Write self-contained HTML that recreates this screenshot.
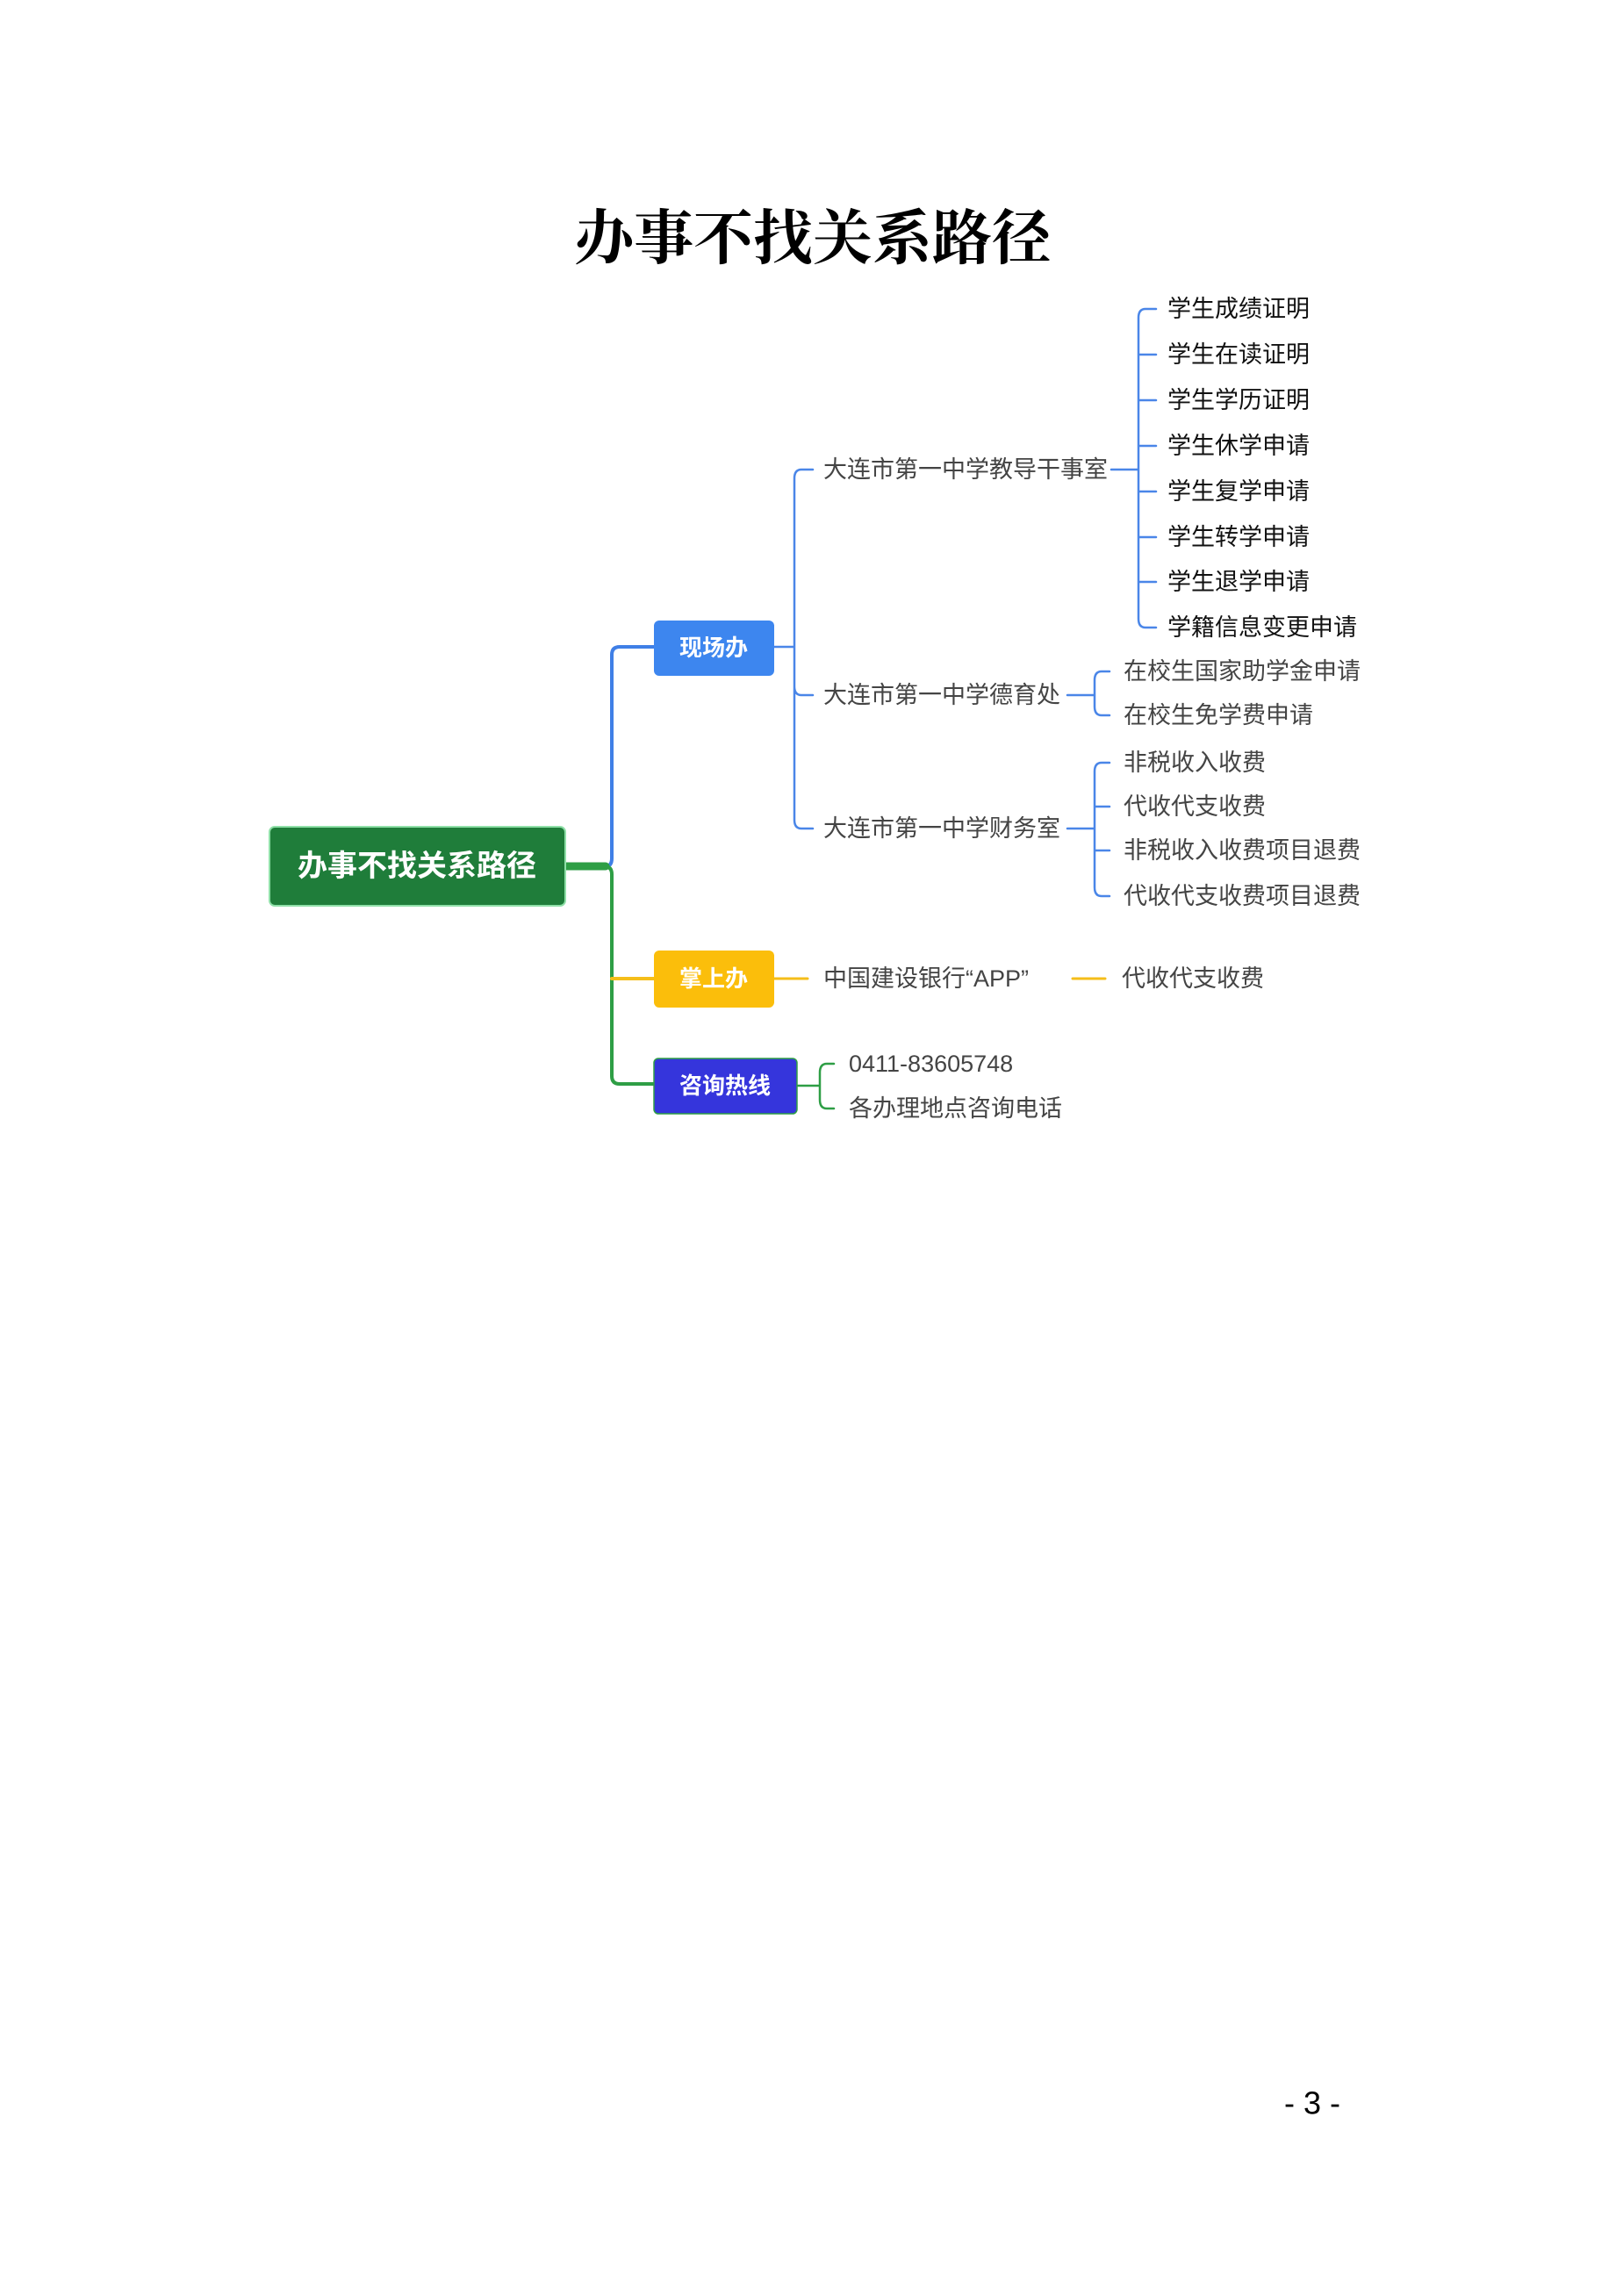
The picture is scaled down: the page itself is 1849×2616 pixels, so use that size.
<!DOCTYPE html>
<html><head><meta charset="utf-8"><style>
html,body{margin:0;padding:0;background:#fff;}
svg{display:block;}
</style></head><body>
<svg width="1849" height="2616" viewBox="0 0 1849 2616" xmlns="http://www.w3.org/2000/svg">
<rect width="1849" height="2616" fill="#fff"/>
<text x="926" y="272" text-anchor="middle" dominant-baseline="central" font-family="'Liberation Serif','Noto Serif CJK SC',serif" font-weight="bold" font-size="68" fill="#000">办事不找关系路径</text>

<g fill="none" stroke-linecap="round">
<!-- root blue branch -->
<path d="M644 987 H690 Q697 987 697 978 V746 Q697 737 706 737 H745" stroke="#3f7fe6" stroke-width="4"/>
<!-- root green -->
<path d="M644 987 H688 Q697 987 697 996 V1226 Q697 1235 706 1235 H745" stroke="#2e9e45" stroke-width="4"/>
<path d="M644 987 H690" stroke="#2e9e45" stroke-width="9"/>
<path d="M697 1115 H745" stroke="#f5be1a" stroke-width="4"/>
<!-- 现场办 to mids -->
<path d="M882 737 H905 M913 535 Q905 535 905 545 V934 Q905 944 913 944 H926 M905 782 Q905 792 913 792 H926 M913 535 H926" stroke="#4a86e8" stroke-width="2.5"/>
<!-- 教导 bracket -->
<path d="M1266 535 H1297 M1317 352 H1305 Q1297 352 1297 362 V705 Q1297 715 1305 715 H1317 M1297 404 H1317 M1297 456 H1317 M1297 508 H1317 M1297 560 H1317 M1297 612 H1317 M1297 663 H1317" stroke="#4a86e8" stroke-width="2.5"/>
<!-- 德育 bracket -->
<path d="M1216 792 H1247 M1264 765 H1255 Q1247 765 1247 775 V805 Q1247 815 1255 815 H1264" stroke="#4a86e8" stroke-width="2.5"/>
<!-- 财务 bracket -->
<path d="M1216 944 H1247 M1264 869 H1255 Q1247 869 1247 879 V1011 Q1247 1021 1255 1021 H1264 M1247 919 H1264 M1247 969 H1264" stroke="#4a86e8" stroke-width="2.5"/>
<!-- 掌上办 lines -->
<path d="M882 1115 H920 M1222 1115 H1259" stroke="#f5be1a" stroke-width="3"/>
<!-- 咨询 bracket -->
<path d="M909 1237 H934 M950 1212 H942 Q934 1212 934 1222 V1253 Q934 1263 942 1263 H950" stroke="#2e9e45" stroke-width="2.5"/>
</g>

<!-- boxes -->
<rect x="307" y="942" width="337" height="90" rx="6" fill="#1f7d3a" stroke="#8fe0a8" stroke-width="2"/>
<text x="475" y="987" text-anchor="middle" dominant-baseline="central" font-family="'Liberation Sans','Noto Sans CJK SC',sans-serif" font-weight="bold" font-size="34" fill="#fff">办事不找关系路径</text>
<rect x="745" y="707" width="137" height="63" rx="6" fill="#3d86ef"/>
<text x="813" y="738" text-anchor="middle" dominant-baseline="central" font-family="'Liberation Sans','Noto Sans CJK SC',sans-serif" font-weight="bold" font-size="26" fill="#fff">现场办</text>
<rect x="745" y="1083" width="137" height="65" rx="6" fill="#fbbe0b"/>
<text x="813" y="1115" text-anchor="middle" dominant-baseline="central" font-family="'Liberation Sans','Noto Sans CJK SC',sans-serif" font-weight="bold" font-size="26" fill="#fff">掌上办</text>
<rect x="745" y="1206" width="163" height="63" rx="5" fill="#3535dc" stroke="#2e9e45" stroke-width="1.5"/>
<text x="826" y="1237" text-anchor="middle" dominant-baseline="central" font-family="'Liberation Sans','Noto Sans CJK SC',sans-serif" font-weight="bold" font-size="26" fill="#fff">咨询热线</text>

<g font-family="'Liberation Sans','Noto Sans CJK SC',sans-serif" font-size="27" dominant-baseline="central">
<g fill="#444">
<text x="938" y="535">大连市第一中学教导干事室</text>
<text x="938" y="792">大连市第一中学德育处</text>
<text x="938" y="944">大连市第一中学财务室</text>
<text x="938" y="1115">中国建设银行“APP”</text>
<text x="1278" y="1115">代收代支收费</text>
<text x="1280" y="765">在校生国家助学金申请</text>
<text x="1280" y="815">在校生免学费申请</text>
<text x="1280" y="869">非税收入收费</text>
<text x="1280" y="919">代收代支收费</text>
<text x="1280" y="969">非税收入收费项目退费</text>
<text x="1280" y="1021">代收代支收费项目退费</text>
<text x="967" y="1212">0411-83605748</text>
<text x="967" y="1263">各办理地点咨询电话</text>
</g>
<g fill="#111">
<text x="1330" y="352">学生成绩证明</text>
<text x="1330" y="404">学生在读证明</text>
<text x="1330" y="456">学生学历证明</text>
<text x="1330" y="508">学生休学申请</text>
<text x="1330" y="560">学生复学申请</text>
<text x="1330" y="612">学生转学申请</text>
<text x="1330" y="663">学生退学申请</text>
<text x="1330" y="715">学籍信息变更申请</text>
</g>
</g>
<text x="1495" y="2396" text-anchor="middle" dominant-baseline="central" font-family="'Liberation Sans',sans-serif" font-size="36" fill="#000">- 3 -</text>
</svg>
</body></html>
